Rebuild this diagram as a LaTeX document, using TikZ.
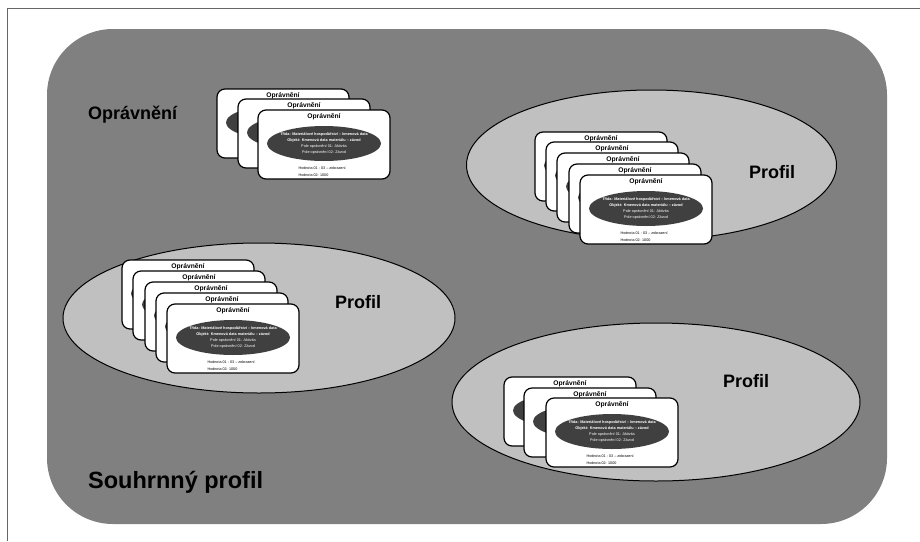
\documentclass[tikz,border=0pt]{standalone}
\usepackage{fontspec}
\setmainfont{Liberation Sans}
\usetikzlibrary{shapes.geometric, calc}
\definecolor{SumGray}{HTML}{808080}
\definecolor{ProfGray}{HTML}{C0C0C0}
\definecolor{RoleDark}{HTML}{404040}
\definecolor{FrameGray}{HTML}{666666}
\tikzset{
    % Containers
    summary/.style={
        rectangle,
        rounded corners=66pt,
        fill=SumGray,
        minimum width=840pt,
        minimum height=495pt,
        inner sep=0pt
    },
    profile/.style={
        ellipse,
        draw=black,
        fill=ProfGray,
        line width=1pt,
        inner sep=0pt
    },
    % Authorization card
    card/.style={
        rectangle,
        rounded corners=8pt,
        draw=black,
        fill=white,
        line width=1.2pt,
        minimum width=132pt,
        minimum height=69pt,
        inner sep=0pt
    },
    cardtitle/.style={
        inner sep=0pt,
        font=\fontsize{6.7}{8}\selectfont\bfseries
    },
    role/.style={
        ellipse,
        fill=RoleDark,
        text=white,
        minimum width=114pt,
        minimum height=35pt,
        inner sep=0pt,
        align=center,
        font=\fontsize{3.8}{6}\selectfont
    },
    values/.style={
        anchor=north west,
        align=left,
        inner sep=0pt,
        font=\fontsize{3.7}{7.5}\selectfont
    },
    biglabel/.style={
        inner sep=0pt,
        font=\fontsize{18}{20}\selectfont\bfseries
    }
}
% covered card: name, left, top
\newcommand{\opravnenikryt}[3]{%
    \node[card] (#1) at (#2+66,#3+34.5) {};
    \node[cardtitle] (#1-title) at ($(#1.north)+(0,7)$) {Oprávnění};
    \node[role] (#1-role) at ($(#1.center)+(0,-1)$) {};
}
% front card: name, left, top
\newcommand{\opravneni}[3]{%
    \opravnenikryt{#1}{#2}{#3}
    \node[role, fill=none] (#1-text) at (#1-role.center)
        {\textbf{Třída: Materiálové hospodářství – kmenová data}\\
         \textbf{Objekt: Kmenová data materiálu – závod}\\
         Pole oprávnění 01: Aktivita\\
         Pole oprávnění 02: Závod};
    \node[values] (#1-values) at ($(#1.west)+(41,22)$)
        {Hodnota 01 : 03 – zobrazení\\Hodnota 02: 1000};
}

\begin{document}
\begin{tikzpicture}[x=1pt, y=-1pt]
    \useasboundingbox (0,0) rectangle (920,541);
    \draw[FrameGray, line width=0.8pt] (7,541) -- (7,8) -- (920,8);

    \node[summary] (souhrn) at (467,276.5) {};

    \node[profile, minimum width=370pt, minimum height=150pt] (profilA) at (651.5,165) {};
    \node[profile, minimum width=392pt, minimum height=150pt] (profilB) at (259,318) {};
    \node[profile, minimum width=408pt, minimum height=158pt] (profilC) at (656,402) {};

    \node[biglabel] (profilAlabel) at (772,172) {Profil};
    \node[biglabel] (profilBlabel) at (358,302) {Profil};
    \node[biglabel] (profilClabel) at (746,381) {Profil};
    \node[biglabel, anchor=base west] (oprlabel) at (88,119) {Oprávnění};
    \node[biglabel, anchor=base west, font=\fontsize{23.5}{26}\selectfont\bfseries] (souhrnlabel) at (88,488) {Souhrnný profil};

    % single authorizations
    \foreach \x/\y [count=\i] in {217/89, 238/99}
        {\opravnenikryt{tl\i}{\x}{\y}}
    \opravneni{tl3}{258}{110}
    % profile top right
    \foreach \x/\y [count=\i] in {535/132, 546/142, 557/153, 569/164}
        {\opravnenikryt{tr\i}{\x}{\y}}
    \opravneni{tr5}{580}{175}
    % profile middle left
    \foreach \x/\y [count=\i] in {122/260, 133/271, 145/282, 156/293}
        {\opravnenikryt{ml\i}{\x}{\y}}
    \opravneni{ml5}{167}{304}
    % profile bottom right
    \foreach \x/\y [count=\i] in {504/377, 524/388}
        {\opravnenikryt{br\i}{\x}{\y}}
    \opravneni{br3}{546}{398}
\end{tikzpicture}
\end{document}
